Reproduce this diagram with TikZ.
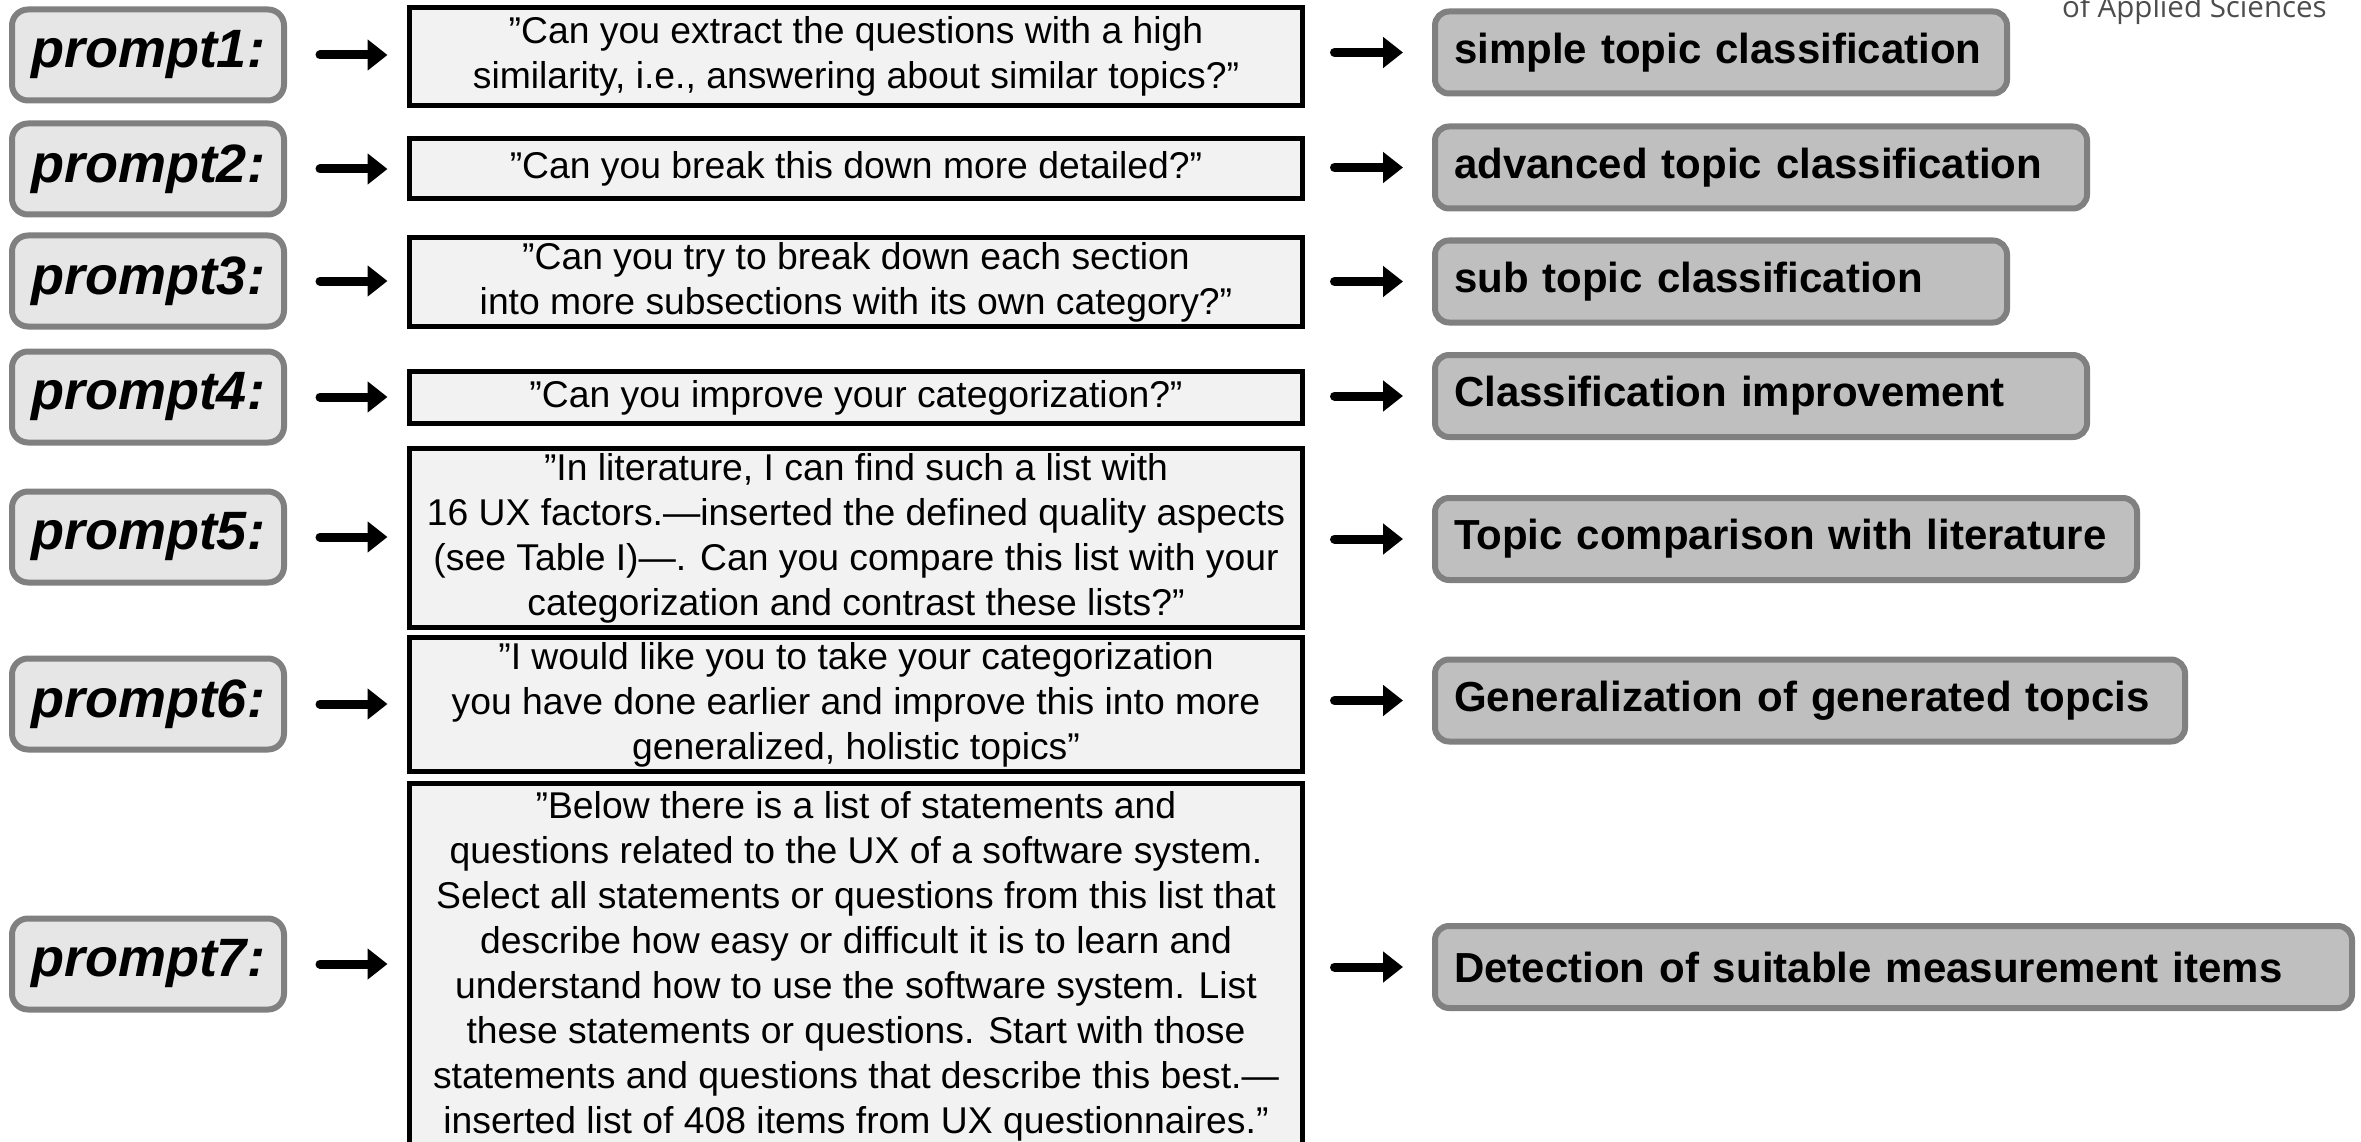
\documentclass[tikz,border=0pt]{standalone}
\usepackage{fontspec}
\setmainfont{Liberation Sans}
\newfontfamily\logofont{Open Sans}
\usetikzlibrary{arrows.meta}
\definecolor{promptfill}{HTML}{E6E6E6}
\definecolor{boxedge}{HTML}{808080}
\definecolor{queryfill}{HTML}{F2F2F2}
\definecolor{resultfill}{HTML}{BFBFBF}
\definecolor{logogray}{HTML}{4D4D4D}

\begin{document}
\begin{tikzpicture}[x=1pt,y=-1pt,
  promptbox/.style={draw=boxedge, fill=promptfill, line width=6pt, rounded corners=16pt,
    minimum width=272pt, minimum height=91pt, inner sep=0pt, outer sep=0pt,
    font=\fontsize{54}{60}\selectfont\bfseries\itshape},
  querybox/.style={draw=black, fill=queryfill, line width=5pt, minimum width=893pt,
    inner sep=0pt, outer sep=0pt, align=center, font=\fontsize{37.3}{45}\selectfont},
  resultbox/.style={draw=boxedge, fill=resultfill, line width=6pt, rounded corners=14pt,
    minimum height=82pt, inner xsep=19pt, inner ysep=0pt, outer sep=0pt, align=left,
    font=\fontsize{42}{48}\selectfont\bfseries},
  flow/.style={line width=9pt, line cap=round, -{Triangle[length=20pt,width=30pt]}},
  inflow/.style={flow, shorten <=36pt, shorten >=22pt},
  outflow/.style={flow, shorten <=32pt, shorten >=32pt}
]
\useasboundingbox (0,0) rectangle (2361,1142);
\clip (0,0) rectangle (2361,1142);

% institution line, cut by the top edge
\node[anchor=base west, inner sep=0pt, text=logogray,
  font=\logofont\fontsize{29.5}{30}\selectfont] (logo) at (2062,18) {of Applied Sciences};

% prompt labels
\node[promptbox] (p1) at (148,55) {prompt1:};
\node[promptbox] (p2) at (148,169) {prompt2:};
\node[promptbox] (p3) at (148,281) {prompt3:};
\node[promptbox] (p4) at (148,397) {prompt4:};
\node[promptbox] (p5) at (148,537) {prompt5:};
\node[promptbox] (p6) at (148,704) {prompt6:};
\node[promptbox] (p7) at (148,964) {prompt7:};

% prompt texts
\node[querybox, minimum height=98pt] (m1) at (856,56.5)
  {”Can you extract the questions with a high\\similarity, i.e., answering about similar topics?”};
\node[querybox, minimum height=60pt] (m2) at (856,168.5)
  {”Can you break this down more detailed?”};
\node[querybox, minimum height=89pt] (m3) at (856,282)
  {”Can you try to break down each section\\into more subsections with its own category?”};
\node[querybox, minimum height=52pt] (m4) at (856,397.5)
  {”Can you improve your categorization?”};
\node[querybox, minimum height=179pt] (m5) at (856,538)
  {”In literature, I can find such a list with\\16 UX factors.—inserted the defined quality aspects\\(see Table I)—. Can you compare this list with your\\categorization and contrast these lists?”};
\node[querybox, minimum height=134pt] (m6) at (856,704.5)
  {”I would like you to take your categorization\\you have done earlier and improve this into more\\generalized, holistic topics”};
\node[querybox, minimum height=365pt] (m7) at (856,966)
  {”Below there is a list of statements and\\questions related to the UX of a software system.\\Select all statements or questions from this list that\\describe how easy or difficult it is to learn and\\understand how to use the software system. List\\these statements or questions. Start with those\\statements and questions that describe this best.—\\inserted list of 408 items from UX questionnaires.”};

% outcomes
\node[resultbox, text width=534pt] (r1) at (1721,52.5) {simple topic classification};
\node[resultbox, text width=614pt] (r2) at (1761,167.5) {advanced topic classification};
\node[resultbox, text width=534pt] (r3) at (1721,281.5) {sub topic classification};
\node[resultbox, text width=614pt] (r4) at (1761,396) {Classification improvement};
\node[resultbox, text width=664pt] (r5) at (1786,539) {Topic comparison with literature};
\node[resultbox, text width=712pt] (r6) at (1810,700.5) {Generalization of generated topcis};
\node[resultbox, text width=879pt] (r7) at (1893.5,967) {Detection of suitable measurement items};

% arrows
\foreach \i in {1,...,7} {
  \draw[inflow] (p\i.east) -- (p\i.east -| m\i.west);
  \draw[outflow] (r\i.west -| m\i.east) -- (r\i.west);
}
\end{tikzpicture}
\end{document}
